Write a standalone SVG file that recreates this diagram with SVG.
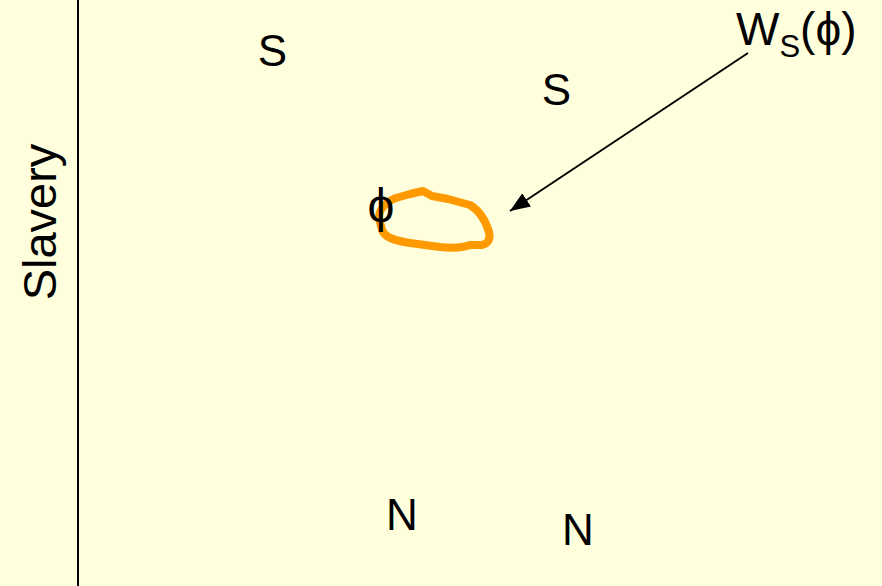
<svg xmlns="http://www.w3.org/2000/svg" width="882" height="586" viewBox="0 0 882 586">
<defs>
<style>
.t{font-family:"Liberation Sans",Arial,sans-serif;fill:#000;}
.lbl{font-size:44px;}
</style>
<marker id="ah" markerWidth="20" markerHeight="16" refX="20" refY="8" orient="auto" markerUnits="userSpaceOnUse" viewBox="0 0 20 16">
<path d="M0,0 L20,8 L0,16 z" fill="#000"/>
</marker>
</defs>
<rect width="882" height="586" fill="#FFFFDD"/>
<g id="axis">
<line x1="78" y1="0" x2="78" y2="586" stroke="#000" stroke-width="2"/>
<text class="t" font-size="47" transform="translate(56,222) rotate(-90)" text-anchor="middle">Slavery</text>
</g>
<g id="s1"><text class="t lbl" x="272.5" y="66" text-anchor="middle">S</text></g>
<g id="s2"><text class="t lbl" x="556.5" y="105" text-anchor="middle">S</text></g>
<g id="n1"><text class="t lbl" x="402" y="530" text-anchor="middle">N</text></g>
<g id="n2"><text class="t lbl" x="578" y="545" text-anchor="middle">N</text></g>
<g id="region">
<path d="M380,222 C376,212 385,202 396,198 L410,194 L423,191 L432,196 L448,199 L470,205 C480,211 486,222 489,232 C491,240 487,244 482,245 L470,245 C462,248 450,248 440,247 L410,243 C396,241 385,238 382,230 Z" fill="none" stroke="#FF9900" stroke-width="8" stroke-linejoin="round"/>
<text class="t" font-size="48" x="381" y="222" text-anchor="middle">ϕ</text>
</g>
<g id="ws">
<text class="t" font-size="46" x="736" y="45">W<tspan font-size="31" dy="12">S</tspan><tspan dy="-12">(ϕ)</tspan></text>
</g>
<g id="connectors">
<line x1="748" y1="53" x2="510" y2="211" stroke="#000" stroke-width="2" marker-end="url(#ah)"/>
</g>
</svg>
